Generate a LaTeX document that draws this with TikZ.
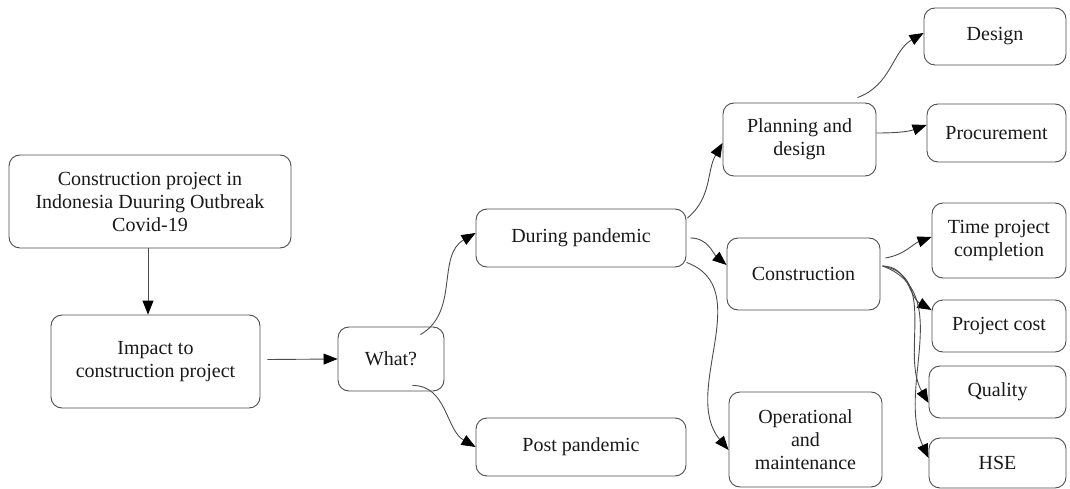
\documentclass[tikz,border=0pt]{standalone}
\usepackage{fontspec}
\setmainfont{Liberation Serif}
\usetikzlibrary{arrows.meta,calc}
\begin{document}
\begin{tikzpicture}[x=1pt,y=1pt,
  box/.style={draw=black!70,line width=0.9pt,rounded corners=11pt,inner sep=0pt,align=center,
    font=\fontsize{20}{23}\selectfont,text=black!90},
  conn/.style={draw=black!70,line width=0.9pt,-{Triangle[length=14pt,width=11pt,color=black]}}]
\useasboundingbox (0,0) rectangle (1070,-489);
\node[box,minimum width=282pt,minimum height=93pt] (cp) at (150,-201.5) {Construction project in\\Indonesia Duuring Outbreak\\Covid-19};
\node[box,minimum width=209pt,minimum height=93pt] (impact) at (155.5,-361.5) {Impact to\\construction project};
\node[box,minimum width=106pt,minimum height=64pt] (what) at (391,-359) {What?};
\node[box,minimum width=210pt,minimum height=58pt] (during) at (581,-238) {During pandemic};
\node[box,minimum width=210pt,minimum height=58pt] (post) at (581,-447) {Post pandemic};
\node[box,minimum width=153pt,minimum height=73pt] (plan) at (799.5,-139.5) {Planning and\\design};
\node[box,minimum width=142pt,minimum height=57pt] (design) at (995,-36.5) {Design};
\node[box,minimum width=139pt,minimum height=58pt] (proc) at (996.5,-133) {Procurement};
\node[box,minimum width=153pt,minimum height=72pt] (constr) at (803.5,-274) {Construction};
\node[box,minimum width=134pt,minimum height=75pt] (time) at (999,-240.5) {Time project\\completion};
\node[box,minimum width=134pt,minimum height=52pt] (cost) at (999,-326) {Project cost};
\node[box,minimum width=137pt,minimum height=52pt] (quality) at (997.5,-392) {Quality};
\node[box,minimum width=137pt,minimum height=50pt] (hse) at (997.5,-463) {HSE};
\node[box,minimum width=153pt,minimum height=95pt] (oper) at (805.5,-439.5) {Operational\\and\\maintenance};

\draw[conn] ($(cp.south)+(-2,0)$) -- ($(impact.north)+(-7.5,0)$);
\draw[conn] ($(impact.east)+(7,2)$) -- (what.west);
\draw[conn] ($(what.north east)+(-24,-8)$) to[out=30,in=210] ($(during.west)+(0,5)$);
\draw[conn] ($(what.south east)+(-32,6)$) to[out=0,in=150] (post.west);
\draw[conn] ($(during.east)+(1,20)$) to[out=40,in=240] ($(plan.west)+(0,-3.5)$);
\draw[conn] ($(during.east)+(4,0)$) to[out=0,in=140] ($(constr.west)+(0,9)$);
\draw[conn] ($(during.south east)+(0,5)$) to[out=-20,in=130] ($(oper.west)+(0,-10.5)$);
\draw[conn] ($(plan.north east)+(-19,5)$) to[out=20,in=210] ($(design.west)+(0,3.5)$);
\draw[conn] ($(plan.east)+(0,6.5)$) to[out=0,in=200] ($(proc.west)+(0,8)$);
\draw[conn] ($(constr.east)+(5,16)$) to[out=10,in=200] ($(time.west)+(0,3.5)$);
\draw[conn] ($(constr.east)+(2,8)$) to[out=0,in=150] ($(cost.west)+(0,16)$);
\draw[conn] ($(constr.east)+(2,8)$) to[out=-10,in=120] ($(quality.west)+(0,-11)$);
\draw[conn] ($(constr.east)+(2,8)$) to[out=-20,in=115] ($(hse.west)+(0,5)$);
\end{tikzpicture}
\end{document}
